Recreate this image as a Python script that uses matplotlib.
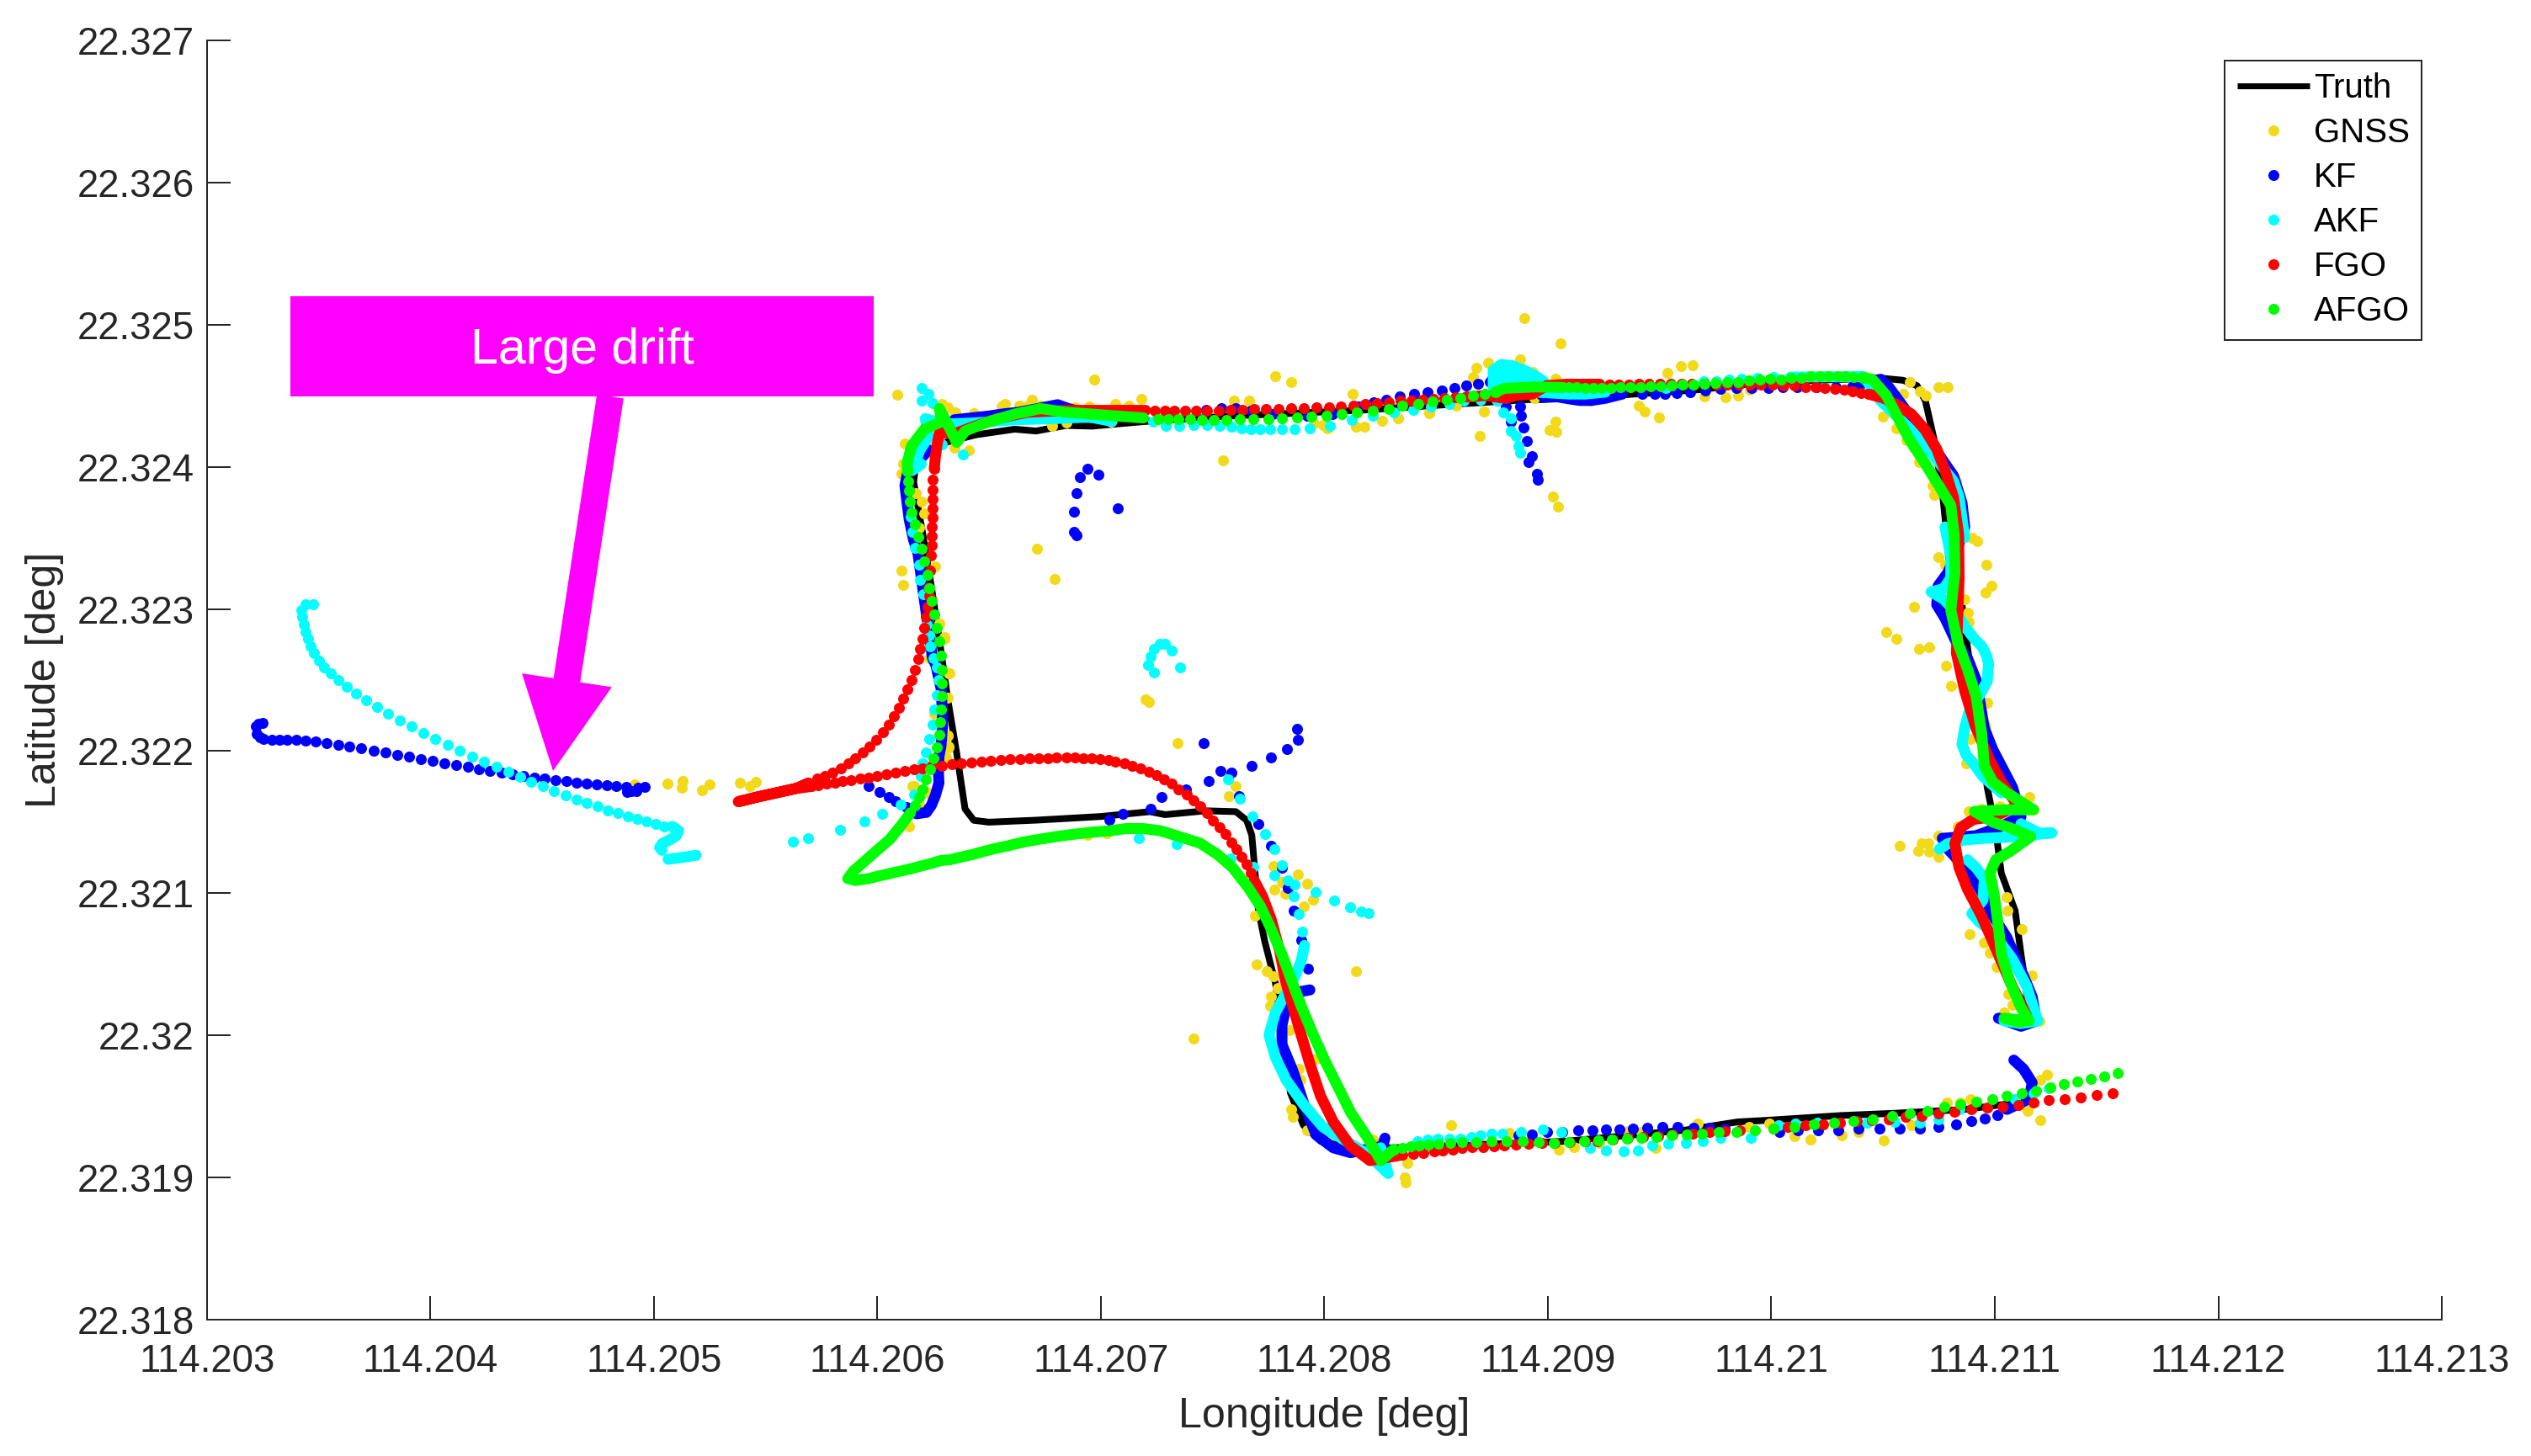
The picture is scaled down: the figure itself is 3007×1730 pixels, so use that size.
import numpy as np
import matplotlib
matplotlib.use("Agg")
import matplotlib.pyplot as plt
from matplotlib.lines import Line2D
from matplotlib.patches import Rectangle, FancyArrow
from matplotlib.transforms import Affine2D

plt.rcParams['font.family'] = ['Liberation Sans', 'DejaVu Sans']

LON0 = 114.2
LAT0 = 22.3

X_TICKS = [114.203, 114.204, 114.205, 114.206, 114.207, 114.208, 114.209, 114.21, 114.211, 114.212, 114.213]
X_LABELS = ['114.203', '114.204', '114.205', '114.206', '114.207', '114.208', '114.209', '114.21', '114.211', '114.212', '114.213']
Y_TICKS = [22.318, 22.319, 22.32, 22.321, 22.322, 22.323, 22.324, 22.325, 22.326, 22.327]
Y_LABELS = ['22.318', '22.319', '22.32', '22.321', '22.322', '22.323', '22.324', '22.325', '22.326', '22.327']

TRUTH = [(11.142,19.535),(10.865,19.479),(10.551,19.452),(10.310,19.436),(9.986,19.403),(9.848,19.391),(9.617,19.334),(9.079,19.255),(8.310,19.209),(8.117,19.209),(7.983,19.255),(7.906,19.368),(7.848,19.595),(7.781,20.366),(7.733,20.661),(7.704,20.887),(7.685,21.228),(7.675,21.409),(7.652,21.513),(7.604,21.574),(7.469,21.580),(7.287,21.553),(7.219,21.574),(7.0,21.540),(6.710,21.514),(6.498,21.500),(6.431,21.513),(6.392,21.593),(6.354,21.990),(6.315,22.360),(6.277,22.783),(6.239,23.180),(6.200,23.551),(6.162,23.894),(6.170,24.0),(6.229,24.106),(6.306,24.172),(6.440,24.225),(6.614,24.265),(6.710,24.252),(6.844,24.291),(6.960,24.286),(7.190,24.318),(7.575,24.357),(8.152,24.397),(8.504,24.433),(8.918,24.473),(8.981,24.473),(9.295,24.502),(9.672,24.542),(9.986,24.598),(10.489,24.624),(10.589,24.609),(10.652,24.571),(10.689,24.465),(10.727,24.201),(10.765,23.823),(10.790,23.445),(10.796,23.256),(10.853,23.030),(10.878,22.727),(10.922,22.236),(10.966,21.745),(11.004,21.443),(11.029,21.141),(11.091,20.876),(11.117,20.574),(11.142,20.310),(11.135,20.045)]

GNSS = [(4.912,21.767),(5.060,21.772),(5.129,21.792),(5.126,21.745),(5.215,21.723),(5.247,21.766),(5.383,21.778),(5.428,21.751),(5.455,21.782),(6.162,21.753),(6.141,21.470),(6.187,21.622),(6.225,21.707),(6.307,21.954),(6.319,22.033),(6.313,22.108),(6.322,22.547),(6.300,22.800),(6.275,22.899),(6.231,22.656),(6.313,22.373),(6.256,22.261),
(6.090,24.508),(6.123,24.164),(6.114,24.021),(6.108,23.953),(6.196,23.757),(6.171,23.815),(6.210,23.670),(6.187,23.572),(6.108,23.270),(6.115,23.172),(6.258,23.299),(6.277,22.894),(6.298,22.791),(6.319,22.545),(6.306,22.373),(6.315,22.109),(6.319,22.029),(6.300,21.950),(6.158,21.752),(6.219,21.712),
(6.969,24.614),(7.779,24.640),(7.852,24.598),(8.127,24.511),(7.179,24.476),(7.064,24.445),(7.125,24.431),(7.594,24.463),(7.662,24.468),(6.571,24.445),(6.633,24.429),(6.690,24.471),(6.671,24.429),(6.729,24.429),(6.287,24.445),(6.315,24.418),(6.348,24.384),(6.431,24.376),(6.408,24.119),(6.344,24.132),(6.556,24.424),(6.883,24.418),(6.946,24.424),(6.767,24.331),(6.783,24.291),(6.844,24.312),(7.046,24.318),(7.546,24.048),(6.712,23.426),(6.794,23.210),(7.200,22.365),(7.214,22.347),(7.344,22.058),(7.604,21.751),(7.573,21.685),(7.952,24.304),(7.994,24.297),(8.142,24.283),(8.179,24.283),(8.014,24.270),(8.258,24.326),(8.329,24.339),(8.469,24.379),(8.589,24.429),(6.940,21.408),(7.027,21.421),
(7.771,21.189),(7.881,21.130),(7.923,21.067),(7.775,21.028),(7.810,21.076),(7.825,20.996),(7.950,20.955),(7.906,20.910),(7.690,20.842),(7.698,20.497),(7.742,20.450),(7.771,20.416),(7.792,20.332),(7.761,20.275),(7.756,20.207),(8.140,20.452),(7.415,19.976),(7.844,20.037),(7.886,19.765),(7.892,19.690),(7.852,19.482),(7.860,19.429),(7.921,19.330),(7.963,19.833),(8.217,19.266),(8.371,19.103),(8.358,19.002),(8.363,18.967),(8.565,19.366),(8.825,19.312),(9.050,19.198),(9.117,19.216),(9.229,19.243),(9.482,19.205),(9.669,19.380),(9.419,19.323),(9.358,19.327),(9.900,19.357),(9.992,19.380),(10.104,19.289),(10.177,19.266),(10.313,19.296),
(10.388,19.320),(10.502,19.263),(10.627,19.365),(10.784,19.528),(10.847,19.528),(10.891,19.554),(11.205,19.403),(11.148,19.467),(11.205,19.686),(11.232,19.724),
(10.746,24.560),(10.790,24.560),(10.620,24.598),(10.664,24.533),(10.693,24.499),(10.589,24.514),(10.500,24.356),(10.558,24.269),(10.604,24.186),(10.637,24.137),(10.661,24.031),(10.727,23.804),(10.721,23.868),(10.828,23.899),(10.922,23.479),(10.897,23.502),(10.749,23.362),(10.777,23.313),(10.963,23.313),(10.985,23.162),(10.960,23.117),(10.638,23.018),(10.514,22.837),(10.559,22.788),(10.661,22.720),(10.708,22.728),(10.782,22.603),(10.804,22.459),(10.865,23.068),(10.878,22.973),(10.884,22.909),(10.966,22.342),(10.960,22.172),(10.891,22.085),(10.872,21.915),(11.154,21.677),(11.173,21.587),(10.884,21.575),(10.941,21.594),(11.022,21.613),(10.834,21.470),(10.746,21.405),(10.575,21.333),(10.671,21.349),(10.702,21.349),(10.658,21.299),(10.708,21.292),(10.746,21.254),(10.828,21.235),(11.051,20.971),(11.055,20.876),(11.119,20.748),(10.888,20.714),(10.952,20.650),(10.978,20.582),(11.006,20.480),(11.164,20.423),(11.060,20.291),(11.079,20.215),(11.198,20.102),(11.041,20.159),
(8.894,25.044),(9.058,24.866),(8.877,24.755),(8.681,24.694),(8.732,24.733),(8.663,24.631),(8.934,24.670),(9.035,24.621),(9.534,24.660),(9.594,24.706),(9.647,24.716),(9.408,24.433),(9.433,24.388),(9.499,24.346),(9.700,24.496),(9.793,24.492),(9.852,24.502),(9.904,24.542),(8.712,24.388),(8.696,24.220),(9.034,24.315),(9.006,24.261),(9.036,24.245),(9.021,23.791),(9.044,23.722),(8.470,24.384),(8.330,24.344),(8.939,24.482),(9.192,24.463)]

KF_LEFT = [(3.247,22.198),(3.230,22.190),(3.218,22.172),(3.222,22.123),(3.236,22.100),(3.254,22.083),(3.291,22.079),(3.323,22.077),(3.357,22.077),(3.398,22.077),(3.440,22.072),(3.487,22.066),(3.536,22.056),(3.588,22.046),(3.638,22.032),(3.691,22.018),(3.744,22.004),(3.798,21.991),(3.852,21.975),(3.904,21.959),(3.957,21.945),(4.010,21.929),(4.063,21.915),(4.115,21.902),(4.166,21.888),(4.217,21.872),(4.267,21.860),(4.318,21.848),(4.368,21.836),(4.418,21.825),(4.466,21.815),(4.512,21.805),(4.560,21.797),(4.607,21.787),(4.652,21.777),(4.698,21.771),(4.744,21.763),(4.789,21.757),(4.832,21.753),(4.877,21.747),(4.88,21.71),(4.92,21.72),(4.96,21.75),(4.93,21.74),(4.90,21.72)]
KF_SCATTER = [(5.961,21.751),(6.009,21.713),(6.049,21.678),(6.080,21.648),(6.131,21.608),(7.271,21.677),(7.223,21.593),(7.098,21.561),(7.037,21.519),(7.381,21.730),(7.617,21.681),(7.704,21.486),(7.761,21.334),(7.810,21.182),(7.838,21.035),(7.863,20.876),(7.896,20.672),(7.925,20.468),(7.461,22.058),(7.483,21.788),(7.536,21.858),(7.583,21.847),(7.675,21.899),(7.761,21.958),(7.833,22.014),(7.881,22.078),(7.879,22.157),(6.940,23.987),(6.906,23.926),(6.889,23.815),(6.881,23.683),(6.879,23.545),(6.889,23.519),(6.990,23.947),(7.077,23.709),
(8.338,24.496),(8.401,24.512),(8.463,24.526),(8.525,24.538),(8.581,24.552),(8.635,24.571),(8.688,24.587),(8.742,24.595),(8.811,24.423),(8.833,24.315),(8.877,24.423),(8.880,24.358),(8.889,24.275),(8.906,24.180),(8.927,24.073),(8.914,24.034),(8.950,23.949),(8.956,23.909),(9.421,24.512),(9.477,24.512),(9.524,24.512),(9.578,24.518),(9.637,24.526),(9.703,24.538),(9.772,24.546),(9.842,24.552),(9.913,24.552),(9.986,24.552),(10.051,24.558),(10.114,24.562),(10.200,24.560),(10.288,24.560),(10.363,24.560),
(7.469,24.402),(7.537,24.410),(7.604,24.410),(7.671,24.397),(7.767,24.371),(7.921,24.357),(8.037,24.371),(8.152,24.424),(8.219,24.455),(8.277,24.471),
(11.010,19.441),(10.953,19.414),(10.893,19.395),(10.825,19.376),(10.749,19.358),(10.664,19.346),(10.576,19.346),(10.485,19.346),(10.388,19.346),(10.300,19.334),(10.210,19.334),(10.117,19.334),(10.035,19.323),(9.790,19.345),(9.723,19.352),(9.652,19.352),(9.581,19.357),(9.513,19.357),(9.444,19.352),(9.381,19.345),(9.319,19.341),(9.261,19.339),(9.200,19.334),(9.136,19.332),(9.063,19.323),(8.998,19.318),(8.929,19.305),(8.867,19.296)]
KF_WEST = [(6.175,21.559),(6.219,21.569),(6.241,21.618),(6.259,21.687),(6.275,21.776),(6.273,21.846),(6.275,21.964),(6.284,22.033),(6.288,22.112),(6.291,22.181),(6.291,22.261),(6.288,22.340),(6.285,22.438),(6.272,22.527),(6.262,22.602),(6.246,22.656),(6.181,23.392),(6.162,23.484),(6.142,23.630),(6.129,23.789),(6.123,23.868),(6.133,23.947),(6.190,24.053),(6.229,24.119)]
KF_NORTH = [(6.344,24.331),(6.421,24.344),(6.498,24.357),(6.556,24.371),(6.633,24.384),(6.806,24.437),(6.854,24.410),(6.95,24.37),(7.037,24.331)]
KF_BLOB = [(8.742,24.595),(8.79,24.68),(8.830,24.71),(8.87,24.68),(8.90,24.62),(8.981,24.492),(9.044,24.492),(9.100,24.477),(9.144,24.467),(9.194,24.467),(9.257,24.482),(9.333,24.512)]
KF_EAST = [(10.363,24.560),(10.426,24.598),(10.489,24.616),(10.526,24.560),(10.614,24.371),(10.702,24.201),(10.765,24.050),(10.815,23.936),(10.853,23.747),(10.865,23.578),(10.821,23.370),(10.790,23.256),(10.746,23.162),(10.740,23.030),(10.777,22.935),(10.828,22.765),(10.878,22.652),(10.916,22.501),(10.953,22.161),(10.991,22.010),(11.079,21.745),(11.117,21.538),(11.016,21.462),(10.916,21.405),(10.765,21.386),(10.790,21.311),(10.891,21.141),(10.941,21.008),(10.978,20.876),(11.054,20.687),(11.117,20.461),(11.167,20.272),(11.186,20.102),(11.117,20.064),(11.016,20.121)]
KF_HOOK = [(11.085,19.826),(11.129,19.762),(11.167,19.667),(11.154,19.554),(11.054,19.479)]
KF_SOUTH = [(8.271,19.277),(8.26,19.22),(8.117,19.175),(8.040,19.209),(7.963,19.300),(7.906,19.527),(7.858,19.754),(7.810,19.935),(7.810,20.071),(7.829,20.207),(7.896,20.309),(7.935,20.320)]

AKF_LEFT = [(3.473,23.032),(3.442,23.032),(3.423,22.992),(3.427,22.943),(3.433,22.890),(3.441,22.840),(3.451,22.789),(3.463,22.736),(3.480,22.688),(3.500,22.637),(3.524,22.591),(3.554,22.546),(3.588,22.498),(3.625,22.451),(3.668,22.406),(3.713,22.358),(3.761,22.311),(3.811,22.265),(3.863,22.218),(3.916,22.174),(3.968,22.129),(4.022,22.085),(4.076,22.044),(4.130,22.002),(4.186,21.963),(4.240,21.923),(4.294,21.888),(4.347,21.852),(4.401,21.817),(4.451,21.783),(4.504,21.751),(4.553,21.720),(4.603,21.690),(4.652,21.662),(4.700,21.635),(4.747,21.611),(4.793,21.585),(4.838,21.564),(4.882,21.542),(4.924,21.522),(4.966,21.504),(5.006,21.487),(5.044,21.470),(5.082,21.470)]
AKF_ZIGZAG = [(5.082,21.470),(5.110,21.440),(5.100,21.405),(5.069,21.375),(5.038,21.351),(5.025,21.322),(5.035,21.302)]
AKF_TAIL = [(5.063,21.239),(5.113,21.249),(5.157,21.259),(5.188,21.267)]
AKF_SCATTER = [(5.623,21.365),(5.688,21.389),(5.832,21.446),(5.942,21.504),(6.021,21.559),(6.103,21.622),(6.162,21.697),(6.193,21.826),(6.202,21.915),(6.215,21.990),(6.232,22.087),(6.246,22.187),(6.254,22.290),(6.266,22.393),(6.272,22.498),(6.266,22.591),(6.251,22.652),(6.237,22.735),(6.231,22.814),(6.219,22.893),(6.206,23.104),(6.190,23.207),(6.185,23.312),(6.167,23.431),(6.156,23.545),(6.148,23.651),(6.383,24.085),(6.287,24.159),(6.196,24.468),(6.196,24.556),(6.229,24.516),(6.248,24.450),
(7.233,24.318),(7.290,24.286),(7.350,24.291),(7.414,24.297),(7.475,24.294),(7.531,24.291),(7.583,24.283),(7.629,24.273),(7.669,24.267),(7.712,24.262),(7.758,24.262),(7.810,24.265),(7.867,24.265),(7.933,24.270),(8.025,24.291),(8.121,24.328),(8.217,24.357),(8.309,24.384),(8.397,24.403),(8.478,24.427),(8.560,24.443),(8.623,24.463),(8.698,24.473),(8.774,24.463),(8.799,24.380),(8.833,24.344),(8.833,24.253),(8.855,24.218),(8.868,24.147),(8.877,24.097),(9.527,24.552),(9.697,24.601),(9.754,24.601),(9.810,24.611),(9.867,24.621),(9.936,24.625),(10.011,24.631),(10.086,24.631),
(7.354,22.590),(7.239,22.553),(7.210,22.606),(7.223,22.664),(7.239,22.717),(7.263,22.752),(7.287,22.757),(7.317,22.709),(7.171,21.389),(7.339,21.347),(7.579,21.244),(7.681,21.183),(7.569,21.799),(7.621,21.665),(7.679,21.538),(7.733,21.414),(7.775,21.307),(7.810,21.198),(7.775,21.126),(7.838,21.092),(7.867,21.064),(7.960,21.005),(7.861,20.978),(8.042,20.949),(8.113,20.901),(8.165,20.872),(8.196,20.862),(7.886,20.853),(7.902,20.729),
(8.415,19.255),(8.460,19.266),(8.506,19.273),(8.560,19.273),(8.610,19.273),(8.656,19.282),(8.700,19.296),(8.748,19.307),(8.798,19.307),(8.881,19.323),(8.977,19.339),(9.060,19.323),(9.190,19.209),(9.261,19.191),(9.338,19.187),(9.402,19.193),(9.467,19.225),(9.540,19.239),(9.617,19.243),(9.694,19.255),(9.771,19.277),(9.906,19.277),(10.031,19.368),(10.108,19.380),(10.204,19.386),(10.426,19.384),(10.551,19.392),(10.664,19.388),(10.749,19.410),(10.840,19.479),(11.092,19.554),(11.173,19.592),(11.242,19.630)]
AKF_CORNER = [(6.196,24.020),(6.156,23.974),(6.190,24.119),(6.229,24.212),(6.214,24.339),(6.30,24.30),(6.45,24.31),(6.60,24.33),(6.80,24.34),(6.95,24.35),(7.05,24.32)]
AKF_BLOB = [(8.774,24.463),(8.755,24.562),(8.755,24.680),(8.792,24.720),(8.843,24.710),(8.893,24.680),(8.943,24.641),(8.981,24.601),(8.90,24.60),(8.82,24.62),(8.80,24.66),(8.88,24.66),(8.78,24.60),(8.80,24.55),(8.90,24.53),(9.094,24.512),(9.169,24.512),(9.257,24.526)]
AKF_EAST = [(10.086,24.631),(10.413,24.635),(10.489,24.465),(10.589,24.314),(10.664,24.201),(10.740,24.050),(10.815,23.899),(10.840,23.785),(10.865,23.502),(10.777,23.577),(10.803,23.370),(10.803,23.219),(10.771,23.143)]
AKF_EAST2 = [(10.771,23.143),(10.715,23.120),(10.771,23.068),(10.828,22.973),(10.865,22.879),(10.909,22.788),(10.943,22.735),(10.963,22.671),(10.972,22.614),(10.968,22.539),(10.966,22.493),(10.943,22.425),(10.884,22.274),(10.865,22.161),(10.853,22.047),(10.872,21.972),(10.909,21.904),(10.947,21.821),(11.029,21.707)]
AKF_EAST3 = [(11.117,21.489),(11.198,21.424),(11.255,21.424),(11.054,21.394),(10.951,21.386),(10.865,21.375),(10.790,21.349),(10.752,21.311)]
AKF_EAST4 = [(10.878,21.235),(10.916,21.179),(10.953,21.103),(10.947,20.952),(10.897,20.857),(10.928,20.801),(10.991,20.725),(11.079,20.536),(11.142,20.347),(11.173,20.196),(11.192,20.102),(11.117,20.083),(11.041,20.102)]
AKF_SOUTH = [(7.911,20.633),(7.896,20.525),(7.867,20.411),(7.829,20.298),(7.781,20.162),(7.752,20.003),(7.781,19.844),(7.829,19.686),(7.906,19.516),(7.992,19.357),(8.098,19.255),(8.194,19.164),(8.285,19.028),(8.252,19.209)]

FGO_SOUTH_DOTS = [(11.527,19.592),(11.456,19.580),(11.384,19.565),(11.314,19.554),(11.242,19.543),(11.173,19.528),(11.104,19.509),(11.035,19.497),(10.966,19.490),(10.893,19.479),(10.821,19.460),(10.749,19.448),(10.674,19.433),(10.599,19.426),(10.526,19.411),(10.451,19.403),(10.382,19.396),(10.306,19.384),(10.231,19.373),(10.153,19.365),(10.074,19.358),(10.011,19.345),(9.858,19.334),(9.790,19.327),(9.723,19.323),(9.646,19.311),(9.559,19.300),(9.492,19.293),(9.425,19.282),(9.358,19.277),(9.290,19.266),(9.223,19.255),(9.165,19.255),(9.098,19.250),(9.031,19.244),(8.973,19.241),(8.915,19.237),(8.858,19.232),(8.804,19.228),(8.758,19.221),(8.710,19.216),(8.661,19.214),(8.617,19.209),(8.575,19.198),(8.531,19.193),(8.492,19.187),(8.444,19.175),(8.396,19.169),(8.348,19.159)]
FGO_BEND = [(8.348,19.159),(8.204,19.119),(8.117,19.221),(8.040,19.391),(7.983,19.572),(7.935,19.799),(7.896,20.003),(7.858,20.207),(7.825,20.389),(7.800,20.593),(7.761,20.819),(7.723,20.978),(7.685,21.092)]
FGO_MID_DOTS = [(7.671,21.143),(7.652,21.201),(7.630,21.255),(7.608,21.307),(7.585,21.360),(7.556,21.416),(7.531,21.461),(7.502,21.513),(7.475,21.566),(7.444,21.614),(7.415,21.654),(7.383,21.693),(7.348,21.733),(7.315,21.770),(7.283,21.799),(7.248,21.828),(7.214,21.857),(7.177,21.879),(7.139,21.897),(7.104,21.916),(7.065,21.924),(7.033,21.937),(6.998,21.945),(6.960,21.950),(6.921,21.950),(6.883,21.955),(6.844,21.955),(6.802,21.955),(6.762,21.950),(6.721,21.950),(6.679,21.947),(6.637,21.942),(6.594,21.942),(6.550,21.937),(6.508,21.934),(6.464,21.924),(6.421,21.921),(6.375,21.916),(6.333,21.905),(6.289,21.899),(6.244,21.895),(6.202,21.881),(6.162,21.871),(6.122,21.859),(6.080,21.848),(6.039,21.836),(5.999,21.826),(5.960,21.816),(5.922,21.806),(5.883,21.798),(5.845,21.788),(5.808,21.780),(5.773,21.770),(5.735,21.762),(5.703,21.751),
(5.729,21.806),(5.764,21.826),(5.799,21.851),(5.835,21.881),(5.869,21.915),(5.901,21.950),(5.933,21.990),(5.965,22.033),(5.995,22.079),(6.024,22.132),(6.050,22.187),(6.075,22.245),(6.095,22.306),(6.115,22.369),(6.134,22.433),(6.153,22.502),(6.168,22.571),(6.182,22.646),(6.192,22.719),(6.201,22.792),(6.208,22.867),(6.216,22.942),(6.224,23.015),(6.231,23.091),(6.229,23.154),(6.235,23.27),(6.239,23.379),(6.242,23.445),(6.244,23.511),(6.244,23.577),(6.246,23.643),(6.246,23.709),(6.246,23.775),(6.246,23.841),(6.248,23.908),(6.254,23.987)]
FGO_WEDGE = [(5.703,21.751),(5.634,21.737),(5.565,21.713),(5.490,21.687),(5.415,21.658),(5.377,21.644),(5.452,21.674),(5.534,21.701),(5.634,21.737),(5.691,21.776)]
FGO_CORNER = [(6.254,23.987),(6.260,24.080),(6.267,24.159),(6.277,24.238),(6.354,24.238),(6.421,24.278),(6.537,24.339),(6.671,24.384),(6.844,24.397),(6.998,24.397),(7.114,24.397),(7.200,24.397)]
FGO_NORTH_DOTS = [(7.242,24.392),(7.287,24.392),(7.329,24.392),(7.377,24.397),(7.425,24.397),(7.473,24.397),(7.527,24.397),(7.579,24.402),(7.633,24.402),(7.685,24.405),(7.740,24.405),(7.796,24.405),(7.852,24.410),(7.908,24.410),(7.964,24.416),(8.019,24.418),(8.075,24.424),(8.129,24.431),(8.183,24.442),(8.237,24.447),(8.287,24.455),(8.339,24.463),(8.390,24.468),(8.440,24.471),(8.489,24.476),(8.537,24.482),(8.585,24.490),(8.633,24.495),(9.276,24.581),(9.318,24.581),(9.362,24.581),(9.406,24.585),(9.452,24.585),(9.500,24.587),(9.550,24.585),(9.597,24.585),(9.644,24.585),(9.699,24.585),(9.754,24.581),(9.804,24.581),(9.854,24.577),(9.904,24.577),(9.954,24.577),(10.005,24.577),(10.055,24.575),(10.103,24.571),(10.152,24.560),(10.197,24.560),(10.241,24.552),(10.285,24.548),(10.325,24.541),(10.363,24.530),(10.401,24.522),(10.436,24.511)]
FGO_CREST = [(8.654,24.492),(8.717,24.502),(8.811,24.482),(8.855,24.502),(8.931,24.512),(8.994,24.571),(9.081,24.581),(9.157,24.581),(9.232,24.581)]
FGO_EAST = [(10.436,24.511),(10.501,24.484),(10.551,24.446),(10.627,24.371),(10.689,24.258),(10.740,24.125),(10.777,23.974),(10.815,23.785),(10.838,23.521),(10.840,23.219),(10.834,22.954),(10.828,22.690),(10.865,22.425),(10.916,22.161),(10.978,21.934),(11.029,21.783),(11.104,21.613),(10.991,21.538),(10.903,21.519),(10.847,21.462),(10.821,21.349),(10.840,21.179),(10.878,21.027),(10.941,20.839),(11.004,20.612),(11.066,20.385),(11.142,20.140)]

AFGO_SOUTH_DOTS = [(11.550,19.732),(11.490,19.713),(11.431,19.694),(11.370,19.675),(11.310,19.656),(11.249,19.637),(11.186,19.611),(11.120,19.592),(11.054,19.573),(10.988,19.554),(10.919,19.535),(10.847,19.516),(10.775,19.497),(10.700,19.471),(10.620,19.452),(10.539,19.430),(10.453,19.411),(10.367,19.396),(10.279,19.384),(10.190,19.373),(10.102,19.358),(10.011,19.346),(9.925,19.334),(9.844,19.323),(9.765,19.318),(9.690,19.311),(9.621,19.305),(9.554,19.296),(9.486,19.286),(9.419,19.277),(9.354,19.273),(9.288,19.266),(9.225,19.259),(9.163,19.255),(9.094,19.250),(9.027,19.246),(8.960,19.250),(8.886,19.255),(8.815,19.255),(8.746,19.255),(8.679,19.250),(8.617,19.250),(8.563,19.246),(8.510,19.239),(8.465,19.232),(8.425,19.228),(8.386,19.221),(8.348,19.209),(8.310,19.198)]
AFGO_BEND = [(8.310,19.198),(8.252,19.119),(8.194,19.277),(8.117,19.459),(8.060,19.640),(8.002,19.822),(7.944,20.026),(7.896,20.207),(7.852,20.389),(7.810,20.570),(7.761,20.751),(7.713,20.910),(7.656,21.046),(7.588,21.182),(7.521,21.273),(7.444,21.352),(7.344,21.402),(7.267,21.439),(7.190,21.455),(7.114,21.455),(7.037,21.439),(6.960,21.429),(6.883,21.416),(6.806,21.400),(6.729,21.381),(6.652,21.360),(6.585,21.334),(6.527,21.315),(6.479,21.296),(6.431,21.275),(6.373,21.254),(6.325,21.236),(6.283,21.230),(6.239,21.209),(6.194,21.191),(6.156,21.175),(6.114,21.159),(6.079,21.148),(6.046,21.135)]
AFGO_MID_DOTS = [(6.167,21.619),(6.185,21.677),(6.200,21.733),(6.217,21.802),(6.235,21.871),(6.252,21.950),(6.265,22.029),(6.275,22.114),(6.281,22.201),(6.285,22.294),(6.287,22.386),(6.289,22.479),(6.289,22.572),(6.285,22.670),(6.277,22.770),(6.267,22.868),(6.256,22.963),(6.244,23.056),(6.233,23.148),(6.223,23.241),(6.210,23.334),(6.196,23.426),(6.183,23.506),(6.167,23.593),(6.154,23.677),(6.146,23.757),(6.140,23.834),(6.137,23.900),(6.135,23.966)]
AFGO_HOOK = [(6.046,21.135),(6.008,21.122),(5.960,21.103),(5.902,21.090),(5.867,21.103),(5.892,21.156),(5.940,21.222),(5.998,21.302),(6.056,21.381),(6.104,21.474),(6.148,21.566)]
AFGO_CORNER = [(6.135,23.966),(6.133,24.027),(6.152,24.146),(6.210,24.265),(6.287,24.318),(6.277,24.410),(6.325,24.265),(6.354,24.172),(6.392,24.252),(6.498,24.318),(6.614,24.371),(6.729,24.410),(6.844,24.384),(6.960,24.371),(7.075,24.357),(7.190,24.344)]
AFGO_NORTH_DOTS = [(7.258,24.336),(7.300,24.336),(7.346,24.334),(7.398,24.334),(7.452,24.331),(7.506,24.331),(7.562,24.331),(7.621,24.334),(7.683,24.334),(7.748,24.336),(7.810,24.342),(7.877,24.347),(7.940,24.352),(8.010,24.360),(8.077,24.371),(8.144,24.381),(8.215,24.392),(8.290,24.409),(8.350,24.429),(8.419,24.443),(8.485,24.459),(8.548,24.473),(8.608,24.486),(8.664,24.502),(8.717,24.516),(8.765,24.526),(9.094,24.558),(9.129,24.558),(9.166,24.556),(9.203,24.556),(9.242,24.556),(9.282,24.556),(9.325,24.558),(9.368,24.558),(9.413,24.562),(9.458,24.566),(9.506,24.567),(9.554,24.571),(9.603,24.577),(9.651,24.581),(9.700,24.585),(9.750,24.591),(9.801,24.595),(9.850,24.599),(9.900,24.605),(9.948,24.611),(9.996,24.617),(10.045,24.616),(10.089,24.624),(10.134,24.628),(10.174,24.635),(10.218,24.635),(10.256,24.635),(10.294,24.635),(10.331,24.635),(10.369,24.632),(10.407,24.628)]
AFGO_CREST = [(8.765,24.526),(8.805,24.552),(8.943,24.562),(9.069,24.558)]
AFGO_EAST = [(10.407,24.628),(10.451,24.616),(10.514,24.503),(10.564,24.352),(10.614,24.201),(10.677,24.050),(10.752,23.861),(10.803,23.729),(10.818,23.521),(10.821,23.256),(10.803,22.992),(10.834,22.765),(10.878,22.576),(10.916,22.387),(10.941,22.123),(10.953,21.896),(10.991,21.783),(11.054,21.707),(11.173,21.587),(11.041,21.587),(10.909,21.575),(10.991,21.500),(11.066,21.462),(11.161,21.398),(11.066,21.292),(11.004,21.235),(10.978,21.141),(10.997,20.990),(11.016,20.763),(11.029,20.574),(11.066,20.385),(11.117,20.196),(11.154,20.102),(11.041,20.121),(11.117,20.09)]

COLORS = {'Truth': 'k', 'GNSS': '#F2D91A', 'KF': '#0000FF', 'AKF': '#00FFFF', 'FGO': '#FF0000', 'AFGO': '#00FF00'}
PX = 0.72            # points per output pixel at dpi 100
DOT = 13 * PX
INK = '#262626'


def lonlat(points):
    a = np.array(points, dtype=float)
    return LON0 + a[:, 0] / 1000.0, LAT0 + a[:, 1] / 1000.0


fig = plt.figure(figsize=(30.07, 17.30), dpi=100, facecolor='white')
ax = fig.add_axes([246 / 3007, 1 - 1568 / 1730, (2901 - 246) / 3007, (1568 - 48) / 1730])

x, y = lonlat(TRUTH)
ax.plot(x, y, '-', color=COLORS['Truth'], lw=8 * PX, solid_joinstyle='round', solid_capstyle='butt', zorder=2)


def draw(name, dots, tracks, z):
    c = COLORS[name]
    for d in dots:
        x, y = lonlat(d)
        ax.plot(x, y, 'o', color=c, ms=DOT, mew=0, ls='none', zorder=z)
    for t in tracks:
        x, y = lonlat(t)
        ax.plot(x, y, '-', color=c, lw=DOT, solid_capstyle='round', solid_joinstyle='round', zorder=z)


draw('GNSS', [GNSS], [], 3)
draw('KF', [KF_LEFT, KF_SCATTER], [KF_WEST, KF_NORTH, KF_BLOB, KF_EAST, KF_HOOK, KF_SOUTH], 4)
draw('AKF', [AKF_LEFT, AKF_SCATTER], [AKF_ZIGZAG, AKF_TAIL, AKF_CORNER, AKF_BLOB, AKF_EAST, AKF_EAST2, AKF_EAST3, AKF_EAST4, AKF_SOUTH], 5)
draw('FGO', [FGO_SOUTH_DOTS, FGO_MID_DOTS, FGO_NORTH_DOTS], [FGO_BEND, FGO_WEDGE, FGO_CORNER, FGO_CREST, FGO_EAST], 6)
draw('AFGO', [AFGO_SOUTH_DOTS, AFGO_MID_DOTS, AFGO_NORTH_DOTS], [AFGO_BEND, AFGO_HOOK, AFGO_CORNER, AFGO_CREST, AFGO_EAST], 7)

ax.set_xlim(114.203, 114.213)
ax.set_ylim(22.318, 22.327)
ax.set_xticks(X_TICKS)
ax.set_xticklabels(X_LABELS)
ax.set_yticks(Y_TICKS)
ax.set_yticklabels(Y_LABELS)
ax.spines['top'].set_visible(False)
ax.spines['right'].set_visible(False)
for s in ('left', 'bottom'):
    ax.spines[s].set_linewidth(2 * PX)
    ax.spines[s].set_color(INK)
ax.tick_params(direction='in', length=28 * PX, width=2 * PX, color=INK, labelcolor=INK, labelsize=32.9)
ax.tick_params(axis='x', pad=20)
ax.tick_params(axis='y', pad=11)
fig.text(1573 / 3007, 1 - 1696 / 1730, 'Longitude [deg]', fontsize=36.2, color=INK, ha='center', va='baseline')
fig.text(66 / 3007, 1 - 808 / 1730, 'Latitude [deg]', fontsize=36.2, color=INK, ha='center', va='baseline', rotation=90, rotation_mode='anchor')

handles = [Line2D([], [], color='k', lw=7 * PX, solid_capstyle='butt')]
for name in ['GNSS', 'KF', 'AKF', 'FGO', 'AFGO']:
    handles.append(Line2D([], [], ls='none', marker='o', color=COLORS[name], ms=DOT, mew=0))
leg = ax.legend(handles, ['Truth', 'GNSS', 'KF', 'AKF', 'FGO', 'AFGO'], loc='upper left',
                bbox_to_anchor=(2643 / 3007, 1 - 72 / 1730), bbox_transform=fig.transFigure,
                borderaxespad=0, fontsize=29, frameon=True, fancybox=False, framealpha=1, edgecolor=INK,
                handlelength=2.15, handletextpad=0.12, labelspacing=0.37, borderpad=0.36, labelcolor='k')
leg.get_frame().set_linewidth(2 * PX)
leg.set_zorder(20)

# Annotation: pixel frame of the output image, y measured from the top
px = Affine2D().scale(1, -1).translate(0, 1730)
fig.add_artist(Rectangle((345, 352), 693, 119, transform=px, facecolor='#FF00FF', edgecolor='none', zorder=30))
fig.add_artist(FancyArrow(725, 471, 657 - 725, 916 - 471, width=32, head_width=108, head_length=109,
                          length_includes_head=True, transform=px, facecolor='#FF00FF', edgecolor='none', zorder=30))
fig.text(692 / 3007, 1 - 432 / 1730, 'Large drift', color='white', fontsize=42.5, ha='center', va='baseline', zorder=31)

fig.savefig('out.png', dpi=100, facecolor='white')
